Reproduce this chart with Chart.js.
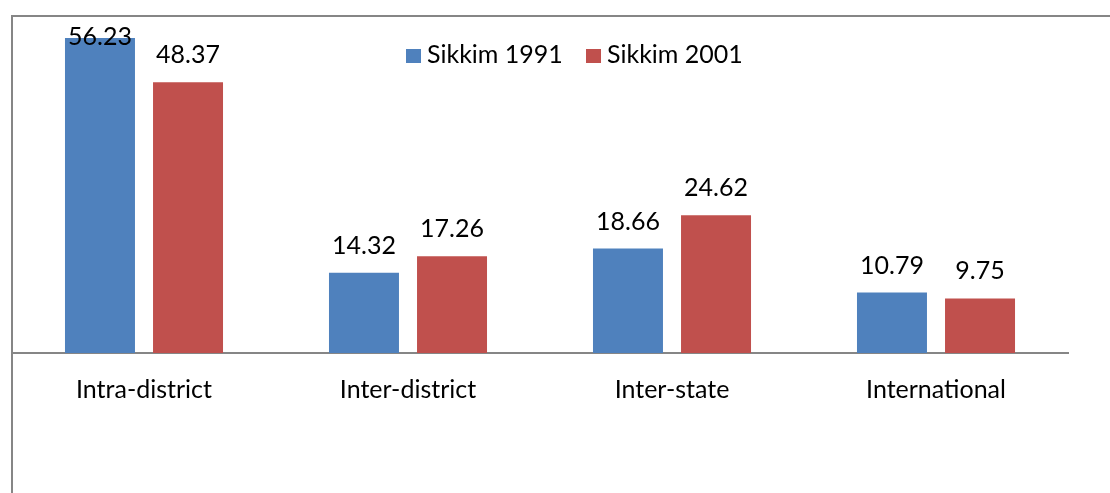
<!DOCTYPE html>
<html>
<head>
<meta charset="utf-8">
<script src="https://cdn.jsdelivr.net/npm/chart.js"></script>
<style>
  html, body { margin: 0; padding: 0; background: #fff; }
  #wrap { width: 1110px; height: 493px; position: relative; }
</style>
</head>
<body>
<div id="wrap"><canvas id="migrationChart"></canvas></div>
<script>
const categories = ['Intra-district', 'Inter-district', 'Inter-state', 'International'];
const sikkim1991 = [56.23, 14.32, 18.66, 10.79];
const sikkim2001 = [48.37, 17.26, 24.62, 9.75];
const seriesNames = ['Sikkim 1991', 'Sikkim 2001'];

const FONT = 'Lato, "Open Sans", sans-serif';
const BLUE = '#4F81BD';
const RED = '#C0504D';
const GREY = '#868686';

// frame around the plot (top and left edges only show inside the canvas)
const framePlugin = {
    id: 'frame',
    beforeDraw(chart) {
        const ctx = chart.ctx;
        ctx.save();
        ctx.strokeStyle = GREY;
        ctx.lineWidth = 2;
        ctx.beginPath();
        ctx.moveTo(12, chart.height + 2);
        ctx.lineTo(12, 16);
        ctx.lineTo(chart.width + 2, 16);
        ctx.stroke();
        ctx.restore();
    }
};

// values printed above each bar
const valueLabels = {
    id: 'valueLabels',
    afterDatasetsDraw(chart) {
        const ctx = chart.ctx;
        ctx.save();
        ctx.font = '25px ' + FONT;
        ctx.fillStyle = '#000';
        ctx.textAlign = 'center';
        ctx.textBaseline = 'alphabetic';
        chart.data.datasets.forEach((ds, i) => {
            chart.getDatasetMeta(i).data.forEach((bar, j) => {
                const y = Math.max(bar.y - 19, 45);
                ctx.fillText(ds.data[j].toFixed(2), bar.x, y);
            });
        });
        ctx.restore();
    }
};

// legend sitting inside the plot area
const innerLegend = {
    id: 'innerLegend',
    afterDraw(chart) {
        const ctx = chart.ctx;
        ctx.save();
        ctx.font = '25px ' + FONT;
        ctx.textBaseline = 'alphabetic';
        const starts = [406, 586];
        chart.data.datasets.forEach((ds, i) => {
            const x = starts[i];
            ctx.fillStyle = ds.backgroundColor;
            ctx.fillRect(x, 49, 15, 14);
            ctx.fillStyle = '#000';
            ctx.textAlign = 'left';
            ctx.fillText(ds.label, x + 21, 63);
        });
        ctx.restore();
    }
};

new Chart(document.getElementById('migrationChart'), {
    type: 'bar',
    data: {
        labels: categories,
        datasets: [
            { label: seriesNames[0], data: sikkim1991, backgroundColor: BLUE },
            { label: seriesNames[1], data: sikkim2001, backgroundColor: RED }
        ]
    },
    options: {
        responsive: true,
        maintainAspectRatio: false,
        animation: false,
        layout: { padding: { left: 12, right: 42, top: 17, bottom: 0 } },
        datasets: {
            bar: { categoryPercentage: 0.667, barPercentage: 0.795 }
        },
        plugins: {
            legend: { display: false },
            tooltip: { enabled: false }
        },
        scales: {
            y: {
                display: false,
                min: 0,
                max: 60
            },
            x: {
                grid: { display: false, drawTicks: false },
                border: { display: true, color: GREY, width: 2 },
                ticks: {
                    color: '#000',
                    font: { family: FONT, size: 25 },
                    padding: 22
                },
                afterFit(scale) { scale.height = 140; }
            }
        }
    },
    plugins: [framePlugin, valueLabels, innerLegend]
});
</script>
</body>
</html>
